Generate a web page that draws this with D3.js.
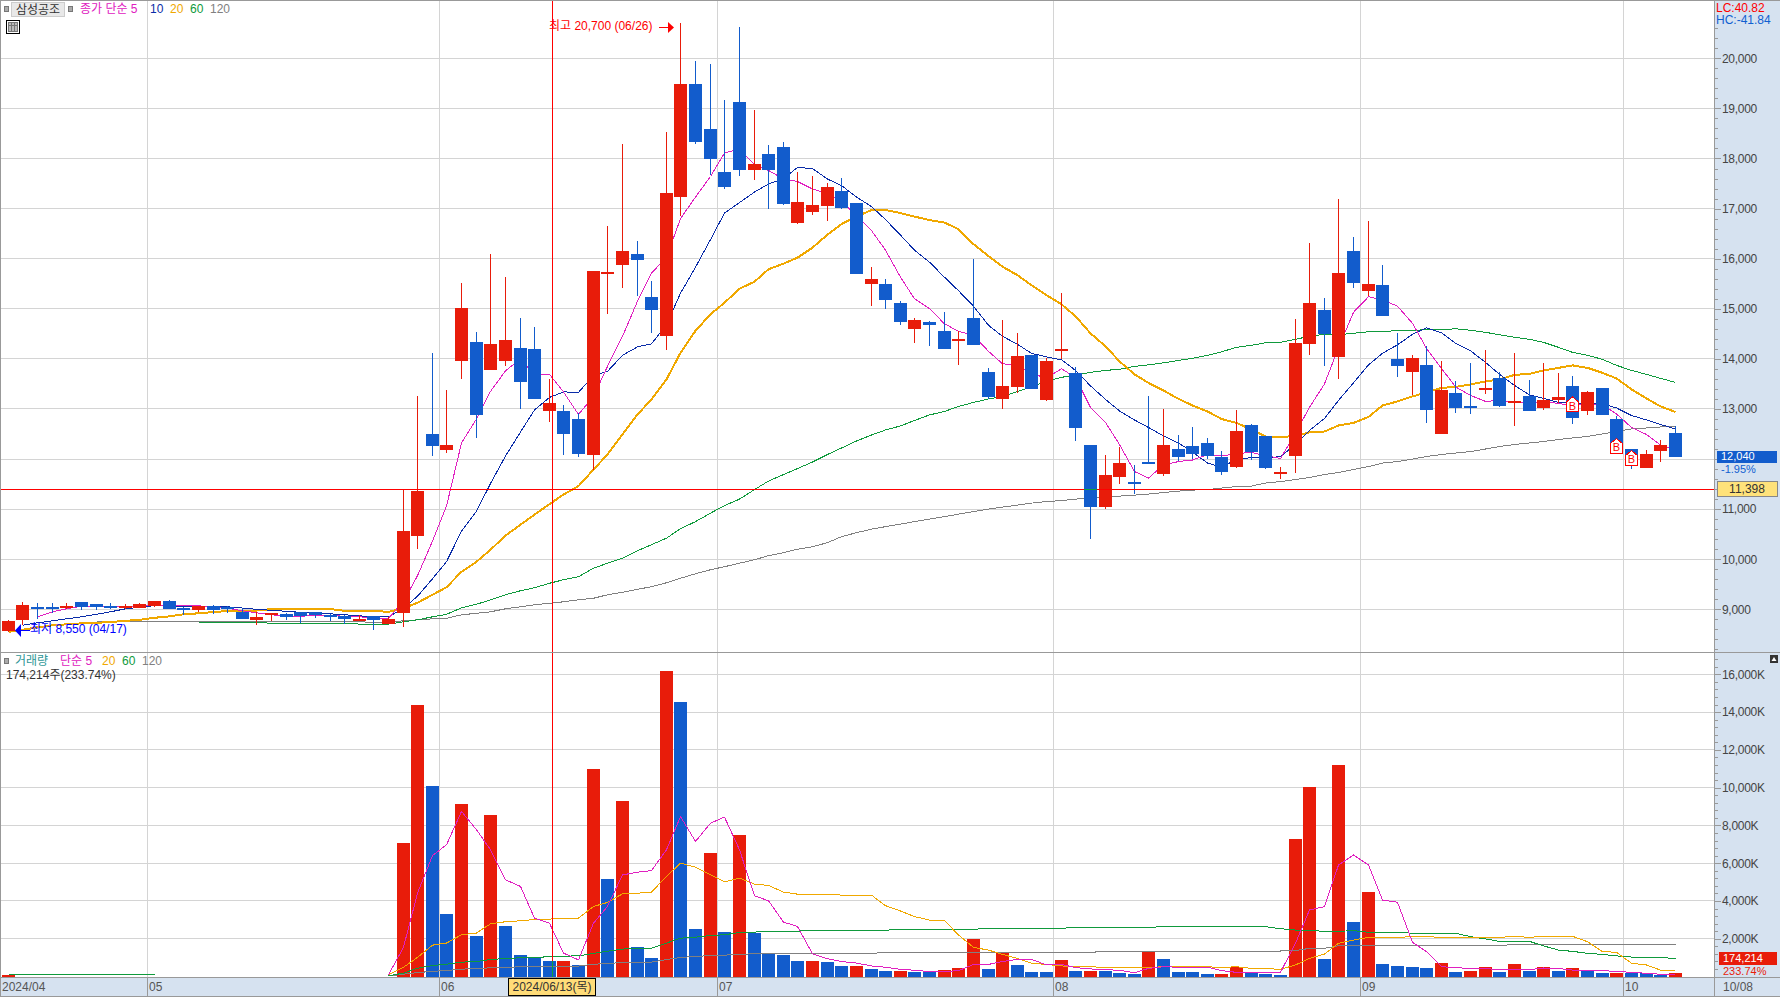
<!DOCTYPE html>
<html>

<head>
  <meta charset="utf-8">
  <script src="https://d3js.org/d3.v7.min.js"></script>
  <style>
    html, body { margin: 0; padding: 0; background: white; overflow: hidden; }
    text { font-family: "Liberation Sans", "Noto Sans CJK KR", sans-serif; font-size: 12px; }
  </style>
</head>

<body>
  <svg id="chart" width="1780" height="997"></svg>
  <script>
    const opens = [
      8570, 8790, 9050, 9050, 9060, 9150, 9110, 9070, 9060, 9030,
      9070, 9170, 9020, 8990, 9070, 9050, 8950, 8790, 8890, 8910,
      8940, 8950, 8890, 8870, 8770, 8870, 8710, 8930, 10470, 12490,
      12190, 13950, 14330, 13770, 13950, 14210, 14190, 12950, 12950, 12790,
      12090, 15730, 15870, 16090, 15230, 14460, 17230, 19490, 18590, 17730,
      19130, 17770, 18090, 18230, 16710, 16930, 17050, 17350, 17110, 15490,
      15490, 15110, 14590, 14730, 14550, 14350, 14810, 13730, 13190, 13430,
      14070, 13170, 14160, 13710, 12290, 11050, 11650, 11550, 11950, 11710,
      12210, 12270, 12310, 12050, 11850, 12670, 12450, 11710, 12070, 14290,
      14970, 14030, 16150, 15350, 15470, 13990, 13730, 13870, 12490, 13310,
      13050, 13390, 13610, 13130, 13250, 13010, 13170, 13450, 12950, 13410,
      12790, 12210, 11830, 12170, 12510];
    const closes = [
      8770, 9090, 9040, 9040, 9070, 9050, 9050, 9060, 9070, 9110,
      9160, 9010, 8990, 9070, 8990, 9000, 8810, 8850, 8920, 8850,
      8870, 8890, 8860, 8810, 8810, 8790, 8810, 10570, 11370, 12270,
      12290, 15010, 12870, 14290, 14370, 13530, 13190, 13110, 12490, 12110,
      15750, 15740, 16150, 15970, 14970, 17310, 19490, 18330, 17990, 17430,
      17770, 17890, 17770, 17090, 17130, 17070, 17430, 17010, 15690, 15590,
      15170, 14730, 14770, 14670, 14190, 14390, 14270, 13230, 13450, 14050,
      13390, 13950, 14200, 12610, 11050, 11690, 11930, 11510, 11930, 12290,
      12050, 12110, 12070, 11750, 12550, 12150, 11830, 11750, 14310, 15110,
      14490, 15710, 15510, 15490, 14850, 13850, 14010, 12970, 13370, 13010,
      13010, 13410, 13050, 13150, 12950, 13170, 13230, 12810, 13330, 12870,
      12270, 11870, 12110, 12290, 12040];
    const highs = [
      8790, 9140, 9130, 9130, 9130, 9150, 9110, 9130, 9100, 9130,
      9170, 9190, 9040, 9070, 9080, 9060, 9030, 8950, 8920, 8920,
      8940, 8950, 8900, 8890, 8890, 8870, 8840, 11400, 13250, 14110,
      13370, 15510, 14530, 16090, 15630, 14810, 14630, 13600, 13070, 12910,
      15750, 16650, 18290, 16350, 15550, 18530, 20700, 19950, 19890, 19170,
      20630, 18970, 18270, 18330, 17730, 17650, 17510, 17610, 17110, 15830,
      15590, 15150, 14810, 14750, 14930, 14550, 15990, 13810, 14770, 14510,
      14070, 14010, 15310, 13830, 12290, 12090, 12250, 11890, 13250, 12990,
      12470, 12630, 12410, 12170, 12970, 12690, 12450, 11850, 14790, 16310,
      15210, 17190, 16430, 16750, 15870, 14510, 14070, 14250, 13950, 13550,
      13910, 14170, 13730, 14110, 13570, 13910, 13710, 13650, 13350, 13410,
      12850, 12210, 12190, 12370, 12650];
    const lows = [
      8550, 8690, 8800, 8920, 9000, 8990, 8990, 9000, 9000, 9030,
      9050, 9010, 8890, 8950, 8900, 8920, 8810, 8690, 8760, 8790,
      8720, 8820, 8770, 8700, 8760, 8590, 8700, 8650, 10210, 12070,
      12130, 13590, 12410, 13770, 13850, 12990, 13190, 12730, 12090, 12050,
      11790, 14890, 15410, 15250, 14510, 14180, 16850, 18290, 17670, 17390,
      17650, 17570, 16990, 17070, 16690, 16870, 16750, 16990, 15690, 15050,
      14990, 14670, 14310, 14250, 14190, 13870, 14270, 13190, 12990, 13310,
      13390, 13150, 13990, 12350, 10410, 11010, 11510, 11310, 11930, 11670,
      11970, 12010, 12010, 11690, 11830, 11990, 11810, 11610, 11730, 14070,
      13850, 13590, 15410, 15250, 14850, 13630, 13270, 12710, 12490, 12910,
      12890, 13290, 13030, 12650, 12950, 12970, 13110, 12690, 12870, 12870,
      12270, 11810, 11830, 11950, 12040];

    const ma5 = [
      null, null, 8850, 8950, 9010, 9060, 9050, 9060, 9060, 9070,
      9090, 9080, 9070, 9070, 9040, 9020, 8970, 8930, 8890, 8870,
      8860, 8880, 8880, 8860, 8850, 8830, 8820, 9160, 9670, 10360,
      11060, 12320, 12800, 13350, 13760, 14000, 13680, 13690, 13340, 12890,
      13250, 13850, 14450, 15150, 15710, 16030, 16800, 17230, 17640, 18110,
      18190, 17880, 17760, 17590, 17540, 17390, 17300, 17150, 16860, 16560,
      16170, 15630, 15200, 15000, 14700, 14550, 14470, 14150, 13900, 13880,
      13700, 13620, 13800, 13630, 13030, 12730, 12290, 11750, 11620, 11880,
      11950, 11980, 12090, 12060, 12110, 12130, 12070, 12010, 12520, 13030,
      13500, 14220, 14930, 15240, 15180, 15050, 14710, 14210, 13810, 13440,
      13270, 13150, 13170, 13130, 13110, 13150, 13110, 13060, 13100, 13080,
      12900, 12630, 12490, 12280, 12180];
    const ma10 = [
      null, 8680, 8730, 8770, 8810, 8850, 8900, 8950, 9010, 9040,
      9075, 9065, 9060, 9065, 9055, 9050, 9025, 9000, 8980, 8960,
      8940, 8920, 8910, 8890, 8870, 8850, 8850, 9020, 9260, 9610,
      9950, 10560, 10960, 11510, 12060, 12540, 12980, 13230, 13340, 13330,
      13670, 13750, 14070, 14240, 14300, 14680, 15310, 15830, 16380, 16910,
      17120, 17330, 17490, 17600, 17820, 17800, 17590, 17460, 17230, 17040,
      16780, 16470, 16170, 15930, 15630, 15360, 15050, 14670, 14450, 14290,
      14110, 14040, 13980, 13770, 13460, 13190, 12960, 12780, 12630, 12460,
      12320, 12140, 11920, 11840, 11990, 12030, 12020, 12050, 12290, 12570,
      12810, 13170, 13520, 13880, 14110, 14280, 14490, 14620, 14520, 14310,
      14160, 13930, 13690, 13470, 13280, 13210, 13130, 13120, 13110, 13100,
      13020, 12870, 12780, 12690, 12600];
    const ma20 = [
      8550, 8590, 8640, 8680, 8700, 8720, 8730, 8745, 8770, 8790,
      8830, 8860, 8900, 8920, 8945, 8965, 8970, 8975, 9005, 9005,
      9005, 9005, 9005, 8970, 8965, 8965, 8950, 9020, 9130, 9290,
      9440, 9750, 9950, 10190, 10470, 10690, 10890, 11100, 11290, 11460,
      11790, 12090, 12490, 12890, 13190, 13590, 14120, 14560, 14890, 15120,
      15400, 15540, 15790, 15900, 16020, 16220, 16480, 16690, 16840, 16970,
      16970, 16910, 16840, 16770, 16720, 16590, 16290, 16050, 15840, 15670,
      15470, 15270, 15090, 14850, 14510, 14250, 13950, 13690, 13520, 13370,
      13200, 13070, 12950, 12800, 12720, 12590, 12450, 12430, 12470, 12530,
      12550, 12670, 12720, 12840, 13070, 13150, 13250, 13330, 13420, 13440,
      13490, 13550, 13590, 13680, 13700, 13770, 13820, 13870, 13820, 13720,
      13610, 13390, 13210, 13050, 12940];
    const ma60 = [
      null, null, null, null, null, null, null, null, null, null,
      null, null, null, 8740, 8740, 8740, 8740, 8740, 8720, 8720,
      8720, 8720, 8720, 8720, 8705, 8705, 8705, 8750, 8790, 8850,
      8900, 9030, 9100, 9190, 9290, 9370, 9430, 9520, 9590, 9650,
      9820, 9920, 10020, 10170, 10290, 10420, 10610, 10750, 10920, 11070,
      11200, 11390, 11560, 11690, 11810, 11940, 12090, 12220, 12360, 12480,
      12580, 12660, 12770, 12880, 12950, 13050, 13130, 13200, 13250, 13350,
      13440, 13550, 13630, 13680, 13730, 13770, 13790, 13850, 13880, 13920,
      13970, 14010, 14070, 14140, 14230, 14270, 14320, 14330, 14390, 14450,
      14490, 14480, 14510, 14540, 14550, 14560, 14570, 14580, 14580, 14600,
      14570, 14530, 14480, 14430, 14390, 14330, 14230, 14130, 14070, 13990,
      13870, 13770, 13690, 13610, 13530];
    const ma120 = [
      null, null, null, null, null, null, 8750, 8750, 8750, 8750,
      8750, 8750, 8750, 8750, 8750, 8750, 8750, 8750, 8750, 8750,
      8750, 8750, 8750, 8750, 8750, 8740, 8750, 8770, 8790, 8810,
      8820, 8890, 8920, 8950, 9010, 9050, 9090, 9120, 9150, 9190,
      9220, 9290, 9340, 9400, 9450, 9530, 9620, 9710, 9790, 9850,
      9920, 9990, 10070, 10130, 10200, 10250, 10330, 10450, 10530, 10600,
      10650, 10700, 10750, 10800, 10850, 10900, 10950, 11000, 11040, 11080,
      11120, 11150, 11170, 11200, 11220, 11230, 11260, 11280, 11300, 11330,
      11360, 11380, 11390, 11420, 11450, 11460, 11520, 11550, 11590, 11630,
      11690, 11730, 11790, 11850, 11920, 11950, 12000, 12050, 12090, 12120,
      12150, 12200, 12250, 12290, 12320, 12350, 12390, 12420, 12450, 12500,
      12550, 12600, 12620, 12640, 12650];

    // volumes in thousands of shares
    const volumes = [
      60, 20, 20, 15, 20, 25, 20, 15, 20, 25,
      20, 20, 15, 20, 15, 15, 25, 20, 15, 15,
      15, 15, 15, 20, 15, 15, 20, 7080, 14390, 10100,
      3320, 9140, 2150, 8560, 2680, 1150, 1040, 830, 840, 620,
      11000, 5170, 9300, 1570, 990, 16190, 14540, 2520, 6550, 2370,
      7500, 2300, 1220, 1150, 830, 835, 780, 565, 570, 400,
      290, 295, 240, 230, 345, 450, 1985, 400, 1245, 610,
      240, 235, 875, 290, 295, 290, 185, 130, 1315, 925,
      240, 235, 130, 135, 520, 185, 130, 80, 7280, 10040,
      930, 11200, 2890, 4470, 660, 555, 505, 450, 715, 240,
      290, 505, 240, 660, 290, 505, 290, 450, 290, 185,
      195, 170, 160, 75, 174.2];
    const volMa5 = [
      null, null, null, null, null, null, null, null, null, null,
      null, null, null, null, null, null, null, null, null, null,
      null, null, null, null, null, null, 90, 1550, 4410, 6410,
      6970, 8740, 7770, 6710, 5120, 4770, 3090, 2820, 1240, 880,
      2820, 3710, 5380, 5520, 5610, 6710, 8470, 7150, 8120, 8440,
      6710, 4270, 4010, 2880, 2650, 1200, 940, 790, 710, 560,
      490, 380, 330, 260, 260, 310, 640, 640, 790, 910,
      910, 610, 640, 470, 400, 360, 330, 200, 430, 520,
      490, 490, 490, 310, 220, 220, 220, 220, 1760, 3520,
      3700, 5900, 6430, 5900, 4050, 3930, 1810, 1320, 520, 470,
      420, 420, 360, 360, 360, 450, 420, 340, 310, 310,
      270, 220, 170, 120, 115];
    const volMa20 = [
      null, null, null, null, null, null, null, null, null, null,
      null, null, null, null, null, null, null, null, null, null,
      null, null, null, null, null, null, 90, 490, 1010, 1660,
      1770, 2210, 2300, 2790, 2900, 2950, 3020, 3040, 3090, 3090,
      3710, 3920, 4380, 4410, 4470, 5300, 6000, 5790, 5380, 5010,
      5210, 4890, 4820, 4470, 4360, 4360, 4360, 4310, 4310, 4310,
      3750, 3470, 3170, 2990, 2960, 2200, 1540, 1400, 1170, 960,
      700, 640, 560, 520, 520, 470, 470, 470, 470, 520,
      520, 520, 520, 470, 520, 430, 420, 380, 610, 960,
      1190, 1760, 1930, 2070, 2070, 2070, 2110, 2110, 2070, 2070,
      2070, 2070, 2070, 2130, 2070, 2130, 2130, 2130, 1840, 1320,
      1280, 700, 610, 340, 330];
    const volMa60 = [
      80, 80, 80, 80, 80, 80, 80, 80, 80, 80,
      80, null, null, null, null, null, null, null, null, null,
      null, null, null, null, null, null, 35, 180, 440, 580,
      650, 760, 790, 900, 950, 990, 1020, 1040, 1080, 1090,
      1220, 1340, 1450, 1500, 1500, 1770, 2030, 2080, 2170, 2210,
      2330, 2350, 2400, 2400, 2400, 2450, 2450, 2450, 2450, 2450,
      2450, 2500, 2500, 2500, 2500, 2500, 2500, 2550, 2550, 2550,
      2550, 2550, 2550, 2600, 2600, 2600, 2600, 2600, 2600, 2640,
      2640, 2640, 2640, 2640, 2640, 2640, 2640, 2530, 2460, 2440,
      2390, 2390, 2430, 2340, 2340, 2340, 2290, 2290, 2290, 2290,
      2110, 1990, 1860, 1860, 1860, 1620, 1400, 1330, 1230, 1170,
      1090, 1030, 1020, 1020, 940];
    const volMa120 = [
      null, null, null, null, null, null, null, null, null, null,
      null, null, null, null, null, null, null, null, null, null,
      null, null, null, null, null, null, 20, 120, 210, 270,
      320, 390, 420, 460, 490, 510, 530, 530, 530, 550,
      650, 690, 740, 740, 760, 900, 1010, 1060, 1110, 1130,
      1180, 1200, 1220, 1220, 1220, 1220, 1220, 1220, 1220, 1220,
      1280, 1280, 1280, 1280, 1280, 1280, 1280, 1280, 1280, 1280,
      1280, 1280, 1280, 1280, 1280, 1330, 1330, 1330, 1330, 1330,
      1330, 1350, 1350, 1350, 1350, 1350, 1350, 1350, 1370, 1490,
      1490, 1630, 1630, 1630, 1630, 1630, 1630, 1630, 1630, 1630,
      1630, 1630, 1630, 1700, 1700, 1700, 1700, 1700, 1700, 1700,
      1700, 1700, 1700, 1700, 1700];

    const monthIndex = [0, 10, 30, 49, 72, 93, 111];
    const monthLabels = ["2024/04", "05", "06", "07", "08", "09", "10"];
    const priceTicks = [9000, 10000, 11000, 12000, 13000, 14000, 15000, 16000, 17000, 18000, 19000, 20000];
    const volumeTicks = [2000, 4000, 6000, 8000, 10000, 12000, 14000, 16000];
    const signalIndex = [107, 110, 111];
    const signalBottom = [12940, 12110, 11870];
    const crossIndex = 37;
    const crossPrice = 11398;

    const RED = "#e81c0a", BLUE = "#125ccc", MAGENTA = "#e020c0", NAVY = "#0a2ca8",
      ORANGE = "#f0a800", GREEN = "#0f9a3c", GRAY = "#808080", GRID = "#d4d4d4", FRAME = "#999999",
      BAND = "#d6e2f0", INK = "#444444";
    const axisX = 1714;

    const svg = d3.select("svg#chart");
    const x = d3.scaleLinear().domain([0, 114]).range([8.3, 1675.3]);
    const y = d3.scaleLinear().domain([9000, 20000]).range([609.3, 58.3]);
    const yVol = d3.scaleLinear().domain([0, 16000]).range([976.5, 674.3]);
    const px = i => Math.floor(x(i)) + 0.5;
    const crossX = Math.floor(x(crossIndex)) + 3.5;
    const crossY = Math.floor(y(crossPrice)) + 0.5;

    function label(str, tx, ty, color, anchor) {
      return svg.append("text")
        .attr("x", tx).attr("y", ty).attr("dy", "0.35em")
        .attr("text-anchor", anchor || "start")
        .style("fill", color)
        .text(str);
    }

    function hline(yy, x1, x2, color) {
      svg.append("line").attr("x1", x1).attr("x2", x2).attr("y1", yy).attr("y2", yy)
        .attr("shape-rendering", "crispEdges").style("stroke", color);
    }

    function vline(xx, y1, y2, color) {
      svg.append("line").attr("x1", xx).attr("x2", xx).attr("y1", y1).attr("y2", y2)
        .attr("shape-rendering", "crispEdges").style("stroke", color);
    }

    function maLine(values, scale, color, width) {
      const line = d3.line()
        .defined(d => d !== null)
        .x((d, i) => px(i))
        .y(d => scale(d));
      svg.append("path")
        .attr("d", line(values))
        .attr("shape-rendering", "crispEdges")
        .style("fill", "none")
        .style("stroke", color)
        .style("stroke-width", width);
    }

    // side and bottom bands
    svg.append("rect").attr("x", axisX).attr("y", 0).attr("width", 1780 - axisX).attr("height", 997).style("fill", BAND);
    svg.append("rect").attr("x", 0).attr("y", 978).attr("width", 1780).attr("height", 19).style("fill", BAND);

    // grid
    priceTicks.forEach(d => hline(Math.floor(y(d)) + 0.5, 0, axisX, GRID));
    volumeTicks.forEach(d => hline(Math.floor(yVol(d)) + 0.5, 0, axisX, GRID));
    monthIndex.slice(1).forEach(i => vline(Math.floor(x(i) - 7.5) + 0.5, 0, 977, GRID));

    // price moving averages sit under the candles
    maLine(ma120, y, GRAY, 1);
    maLine(ma60, y, GREEN, 1);
    maLine(ma20, y, ORANGE, 2);
    maLine(ma10, y, NAVY, 1);
    maLine(ma5, y, MAGENTA, 1);

    // candles
    closes.forEach((c, i) => {
      const color = c >= opens[i] ? RED : BLUE;
      const top = Math.round(y(Math.max(opens[i], c)));
      const bottom = Math.round(y(Math.min(opens[i], c)));
      vline(px(i), y(highs[i]), y(lows[i]), color);
      svg.append("rect")
        .attr("x", px(i) - 6.5).attr("y", top)
        .attr("width", 13).attr("height", Math.max(2, bottom - top))
        .attr("shape-rendering", "crispEdges")
        .style("fill", color);
    });

    // volume bars, red when up on the previous day
    volumes.forEach((v, i) => {
      if (yVol(0) - yVol(v) < 1) return; // under a pixel, hidden by the baseline
      const up = i === 0 || v >= volumes[i - 1];
      const top = Math.round(yVol(v));
      svg.append("rect")
        .attr("x", px(i) - 6.5).attr("y", top)
        .attr("width", 13).attr("height", 977 - top)
        .attr("shape-rendering", "crispEdges")
        .style("fill", up ? RED : BLUE);
    });
    maLine(volMa120, yVol, GRAY, 1);
    maLine(volMa60, yVol, GREEN, 1);
    maLine(volMa20, yVol, ORANGE, 1);
    maLine(volMa5, yVol, MAGENTA, 1);

    // B signals
    signalIndex.forEach((d, k) => {
      const cx = px(d), b = y(signalBottom[k]);
      svg.append("path")
        .attr("d", d3.line()([[cx - 6, b], [cx - 6, b - 10], [cx, b - 15], [cx + 6, b - 10], [cx + 6, b]]) + "Z")
        .attr("shape-rendering", "crispEdges")
        .style("fill", "white").style("stroke", "#ff0000");
      label("B", cx, b - 6, "#ff0000", "middle").style("font-size", "11px");
    });

    // crosshair, green where it runs over a blue mark
    vline(crossX, 0, 977, "#ff0000");
    hline(crossY, 0, axisX, "#ff0000");
    vline(crossX, yVol(volumes[crossIndex]), 977, "#0fa03c");
    hline(crossY, px(74) - 6.5, px(74) + 6.5, "#0fa03c");

    // high and low markers
    label("최고 20,700 (06/26)", 549, 26, "#ff0000");
    hline(27.5, 659, 670, "#ff0000");
    svg.append("path").attr("d", "M668,22L674,27.5L668,33Z").style("fill", "#ff0000");
    label("최저 8,550 (04/17)", 30, 629, "#0000ff");
    hline(630.5, 19, 30, "#0000ff");
    svg.append("path").attr("d", "M21,624L15,630.5L21,637Z").style("fill", "#0000ff");

    // legends
    const legendTop = [["종가 단순 5", 80, MAGENTA], ["10", 150, NAVY], ["20", 170, ORANGE], ["60", 190, GREEN], ["120", 210, GRAY]];
    const legendVol = [["거래량", 15, "#2e9696"], ["단순 5", 60, MAGENTA], ["20", 102, ORANGE], ["60", 122, GREEN], ["120", 142, GRAY]];
    svg.append("rect").attr("x", 4.5).attr("y", 6.5).attr("width", 4).attr("height", 5).style("fill", "#aaa").style("stroke", "#777");
    svg.append("rect").attr("x", 11.5).attr("y", 2.5).attr("width", 53).attr("height", 14).style("fill", "#e8e8e8").style("stroke", "#ccc");
    label("삼성공조", 38, 9.5, "#333", "middle");
    svg.append("rect").attr("x", 68.5).attr("y", 6.5).attr("width", 4).attr("height", 5).style("fill", "#aaa").style("stroke", "#777");
    legendTop.forEach(d => label(d[0], d[1], 9, d[2]));
    svg.append("rect").attr("x", 6.5).attr("y", 20.5).attr("width", 13).attr("height", 13).style("fill", "#fff").style("stroke", "#000");
    svg.append("rect").attr("x", 8.5).attr("y", 22.5).attr("width", 9).attr("height", 9).style("fill", "#bbb").style("stroke", "#777");
    vline(11.5, 23, 31, "#777");
    vline(14.5, 23, 31, "#777");
    hline(25.5, 9, 17, "#777");
    svg.append("rect").attr("x", 4.5).attr("y", 658.5).attr("width", 4).attr("height", 5).style("fill", "#aaa").style("stroke", "#777");
    legendVol.forEach(d => label(d[0], d[1], 661, d[2]));
    label("174,214주(233.74%)", 6, 675, "#333");

    // frame lines
    hline(0.5, 0, 1780, FRAME);
    hline(652.5, 0, 1780, FRAME);
    hline(977.5, 0, 1780, FRAME);
    hline(996.5, 0, 1780, FRAME);
    vline(0.5, 0, 997, FRAME);
    vline(axisX + 0.5, 0, 997, FRAME);

    // right axes
    const minorPrice = d3.range(8200, 20601, 200);
    const minorVol = d3.range(400, 16801, 400);
    function drawAxis(scale, minor, major, fmt) {
      const g1 = svg.append("g").attr("transform", `translate(${axisX + 1},0)`)
        .call(d3.axisRight(scale).tickValues(minor).tickSize(3).tickFormat(""));
      const g2 = svg.append("g").attr("transform", `translate(${axisX + 1},0)`)
        .call(d3.axisRight(scale).tickValues(major).tickSize(6).tickPadding(1).tickFormat(fmt));
      [g1, g2].forEach(g => {
        g.select(".domain").remove();
        g.selectAll("line").attr("shape-rendering", "crispEdges").style("stroke", FRAME);
        g.selectAll("text").style("fill", INK).style("font-size", "12px").style("letter-spacing", "-0.3px");
      });
    }
    // the 12,000 label is covered by the last price box
    drawAxis(y, minorPrice, priceTicks, d => d === 12000 ? "" : d3.format(",")(d));
    drawAxis(yVol, minorVol, volumeTicks, d => d3.format(",")(d) + "K");

    // right hand read-outs
    label("LC:40.82", 1716, 8, "#ff0000");
    label("HC:-41.84", 1716, 20, "#1060d0");
    svg.append("rect").attr("x", 1717).attr("y", 451).attr("width", 60).attr("height", 12).style("fill", BLUE);
    label("12,040", 1721, 456, "white").style("font-size", "11px");
    label("-1.95%", 1721, 469.5, "#1060d0").style("font-size", "11px");
    svg.append("rect").attr("x", 1717.5).attr("y", 481.5).attr("width", 60).attr("height", 15)
      .style("fill", "#ffe27a").style("stroke", "#888");
    label("11,398", 1747, 489, "#333", "middle");
    svg.append("rect").attr("x", 1719).attr("y", 952).attr("width", 58).attr("height", 13).style("fill", RED);
    label("174,214", 1723, 958, "white").style("font-size", "11px");
    label("233.74%", 1723, 971, RED).style("font-size", "11px");

    // small panel button
    svg.append("rect").attr("x", 1770).attr("y", 655).attr("width", 8).attr("height", 8).style("fill", "#333");
    svg.append("path").attr("d", "M1771.5,661L1776.5,661L1774,657Z").style("fill", "white");

    // bottom date axis
    monthIndex.forEach((d, k) => {
      const tx = k === 0 ? 0.5 : Math.floor(x(d) - 7.5) + 0.5;
      vline(tx, 978, 996, FRAME);
      label(monthLabels[k], tx + 1.5, 987, "#555");
    });
    label("10/08", 1723, 987, "#555");
    svg.append("rect").attr("x", 508.5).attr("y", 978.5).attr("width", 87).attr("height", 17)
      .style("fill", "#ffdc78").style("stroke", "#000");
    label("2024/06/13(목)", 552, 987, "#333", "middle");
  </script>
</body>

</html>
